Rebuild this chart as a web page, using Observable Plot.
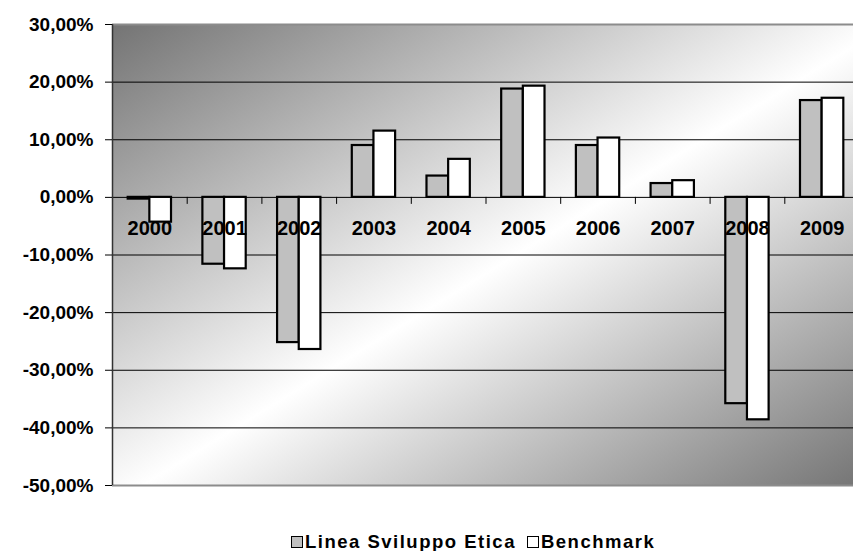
<!DOCTYPE html>
<html><head><meta charset="utf-8">
<script src="https://cdn.jsdelivr.net/npm/d3@7"></script>
<script src="https://cdn.jsdelivr.net/npm/@observablehq/plot@0.6"></script>
<style>
html,body{margin:0;padding:0;background:#fff;overflow:hidden;font-family:"Liberation Sans",Arial,sans-serif;}
#chart svg{display:block;overflow:hidden;}
#legend{height:21px;box-sizing:border-box;padding-top:3px;padding-left:291px;display:flex;align-items:center;font-size:18.5px;font-weight:bold;letter-spacing:1.5px;color:#000;white-space:nowrap;line-height:18px;}
#legend .sw{width:10px;height:10px;border:1px solid #000;margin-right:2px;display:inline-block;}
#legend .item{display:flex;align-items:center;margin-right:11px;}
</style></head><body>
<div id="chart"></div>
<div id="legend"></div>
<script>
const years = ["2000","2001","2002","2003","2004","2005","2006","2007","2008","2009"];
const linea = [-0.3, -11.6, -25.2, 9.0, 3.7, 18.8, 9.0, 2.4, -35.8, 16.8];
const benchmark = [-4.3, -12.4, -26.4, 11.5, 6.6, 19.3, 10.3, 2.9, -38.6, 17.2];
const yTicks = [30, 20, 10, 0, -10, -20, -30, -40, -50];
const seriesNames = ["Linea Sviluppo Etica", "Benchmark"];
const seriesColors = ["#c0c0c0", "#ffffff"];

const lineaData = years.map((y, i) => ({year: y, value: linea[i]}));
const benchData = years.map((y, i) => ({year: y, value: benchmark[i]}));

const W = 853, H = 530, ML = 112, MR = -6, MT = 24, MB = 45;
const padIn = 0.42;
const step = (W - MR - ML) / years.length;
const bw = step * (1 - padIn);
const fmt = d => d.toFixed(2).replace(".", ",") + "%";

const plot = Plot.plot({
  width: W, height: H,
  marginTop: MT, marginBottom: MB, marginLeft: ML, marginRight: MR,
  style: {fontFamily: "'Liberation Sans', Arial, sans-serif", overflow: "hidden", background: "transparent"},
  x: {domain: years, paddingInner: padIn, paddingOuter: padIn / 2, round: false, axis: null, label: null},
  y: {domain: [-50, 30], axis: null, label: null},
  marks: [
    Plot.frame({fill: "url(#bggrad)", stroke: "none"}),
    Plot.ruleY(yTicks.filter(t => t !== 30 && t !== -50), {stroke: "#000", strokeWidth: 1}),
    Plot.ruleY([30, -50], {stroke: "#8c8c8c", strokeWidth: 2}),
    Plot.barY(lineaData, {x: "year", y: "value", fill: seriesColors[0], stroke: "#000", strokeWidth: 2.2, insetRight: bw / 2}),
    Plot.barY(benchData, {x: "year", y: "value", fill: seriesColors[1], stroke: "#000", strokeWidth: 2.2, insetLeft: bw / 2}),
    Plot.ruleX(years.slice(1), {x: d => d, y1: () => 0, y2: () => 0, insetTop: 0, insetBottom: -7, dx: -step / 2, stroke: "#000", strokeWidth: 1}),
    Plot.ruleX(years.slice(0, 1), {x: d => d, dx: -step / 2, stroke: "#333", strokeWidth: 1.5}),
    Plot.axisY({ticks: yTicks, tickSize: 7, tickPadding: 12, tickFormat: fmt, fontSize: 19, fontWeight: "bold", stroke: "#000", fill: "#000", label: null}),
    Plot.text(years, {x: d => d, y: () => 0, dy: 31, fontSize: 20, fontWeight: "bold", fill: "#000"})
  ]
});

const defs = d3.select(plot).insert("defs", ":first-child");
const g = defs.append("linearGradient").attr("id", "bggrad")
  .attr("x1", 0).attr("y1", 0).attr("x2", 1).attr("y2", 1);
g.append("stop").attr("offset", 0).attr("stop-color", "#747474");
g.append("stop").attr("offset", 0.52).attr("stop-color", "#ffffff");
g.append("stop").attr("offset", 1).attr("stop-color", "#757575");

document.getElementById("chart").appendChild(plot);

const legend = d3.select("#legend");
seriesNames.forEach((name, i) => {
  const it = legend.append("div").attr("class", "item");
  it.append("span").attr("class", "sw").style("background", seriesColors[i]);
  it.append("span").text(name);
});
</script>
</body></html>
